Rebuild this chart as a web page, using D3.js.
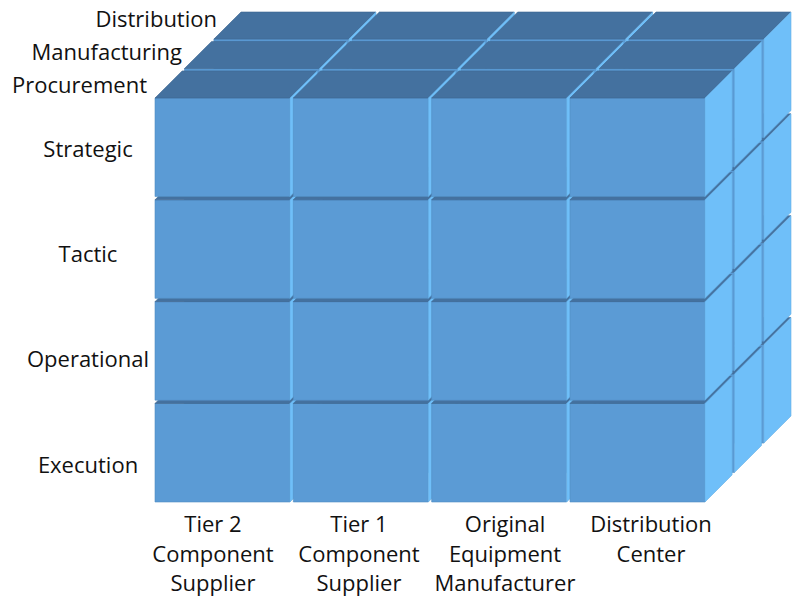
<!DOCTYPE html>
<html>
<head>
<meta charset="utf-8">
<script src="https://cdn.jsdelivr.net/npm/d3@7"></script>
<style>
  html, body { margin: 0; padding: 0; background: #ffffff; }
  svg { display: block; }
  text { font-family: "Open Sans", "Noto Sans", sans-serif; font-size: 22px; fill: #111111; }
</style>
</head>
<body>
<svg id="chart" width="793" height="602"></svg>
<script>
// Supply-chain cube: stages across, decision levels down, functions in depth
const stages = ["Tier 2 Component Supplier", "Tier 1 Component Supplier", "Original Equipment Manufacturer", "Distribution Center"];
const stageLabels = [["Tier 2", "Component", "Supplier"], ["Tier 1", "Component", "Supplier"], ["Original", "Equipment", "Manufacturer"], ["Distribution", "Center"]];
const levels = ["Strategic", "Tactic", "Operational", "Execution"];
const functions = ["Procurement", "Manufacturing", "Distribution"];

const svg = d3.select("#chart");

// Front face grid
const x = d3.scaleBand().domain(stages).range([155, 705]).paddingInner(0.024);
const y = d3.scaleBand().domain(levels).range([98, 502]).paddingInner(0.032);
// Depth (oblique, going up and to the right)
const z = d3.scaleBand().domain(functions).range([0, 86]).paddingInner(0.08);

const colors = { front: "#5b9bd5", top: "#44719f", right: "#6fbff9" };

// One cell per (stage, level, function)
const cells = [];
functions.forEach(f => levels.forEach(l => stages.forEach(s => cells.push({ s, l, f }))));

// Painter's order: back layer first, bottom row first, left column first
cells.sort((a, b) =>
  (functions.indexOf(b.f) - functions.indexOf(a.f)) ||
  (levels.indexOf(b.l) - levels.indexOf(a.l)) ||
  (stages.indexOf(a.s) - stages.indexOf(b.s)));

const w = x.bandwidth(), h = y.bandwidth(), dd = z.bandwidth();

function faces(c) {
  const off = z(c.f);
  const x0 = x(c.s) + off, y0 = y(c.l) - off;
  return [
    { k: "front", p: [[x0, y0], [x0 + w, y0], [x0 + w, y0 + h], [x0, y0 + h]] },
    { k: "top", p: [[x0, y0], [x0 + w, y0], [x0 + w + dd, y0 - dd], [x0 + dd, y0 - dd]] },
    { k: "right", p: [[x0 + w, y0], [x0 + w + dd, y0 - dd], [x0 + w + dd, y0 + h - dd], [x0 + w, y0 + h]] }
  ];
}

const line = d3.line();
const cube = svg.append("g").selectAll("g").data(cells).join("g");
cube.selectAll("path").data(d => faces(d)).join("path")
  .attr("d", d => line(d.p) + "Z")
  .attr("fill", d => colors[d.k])
  .attr("stroke", d => d3.color(colors[d.k]).darker(0.25))
  .attr("stroke-width", 0.6)
  .attr("stroke-linejoin", "round");

// Level labels on the left
const levelY = d3.scalePoint().domain(levels).range([149, 465]);
svg.append("g").selectAll("text").data(levels).join("text")
  .attr("x", 88).attr("y", d => levelY(d)).attr("dy", "0.35em")
  .attr("text-anchor", "middle").text(d => d);

// Function labels along the depth axis
const fx = d3.scalePoint().domain(functions).range([147, 217]);
const fy = d3.scalePoint().domain(functions).range([85, 19]);
svg.append("g").selectAll("text").data(functions).join("text")
  .attr("x", d => fx(d)).attr("y", d => fy(d)).attr("dy", "0.35em")
  .attr("text-anchor", "end").text(d => d);

// Stage labels below the grid
const sx = d3.scalePoint().domain(stages).range([213, 651]);
const st = svg.append("g").selectAll("text").data(stages).join("text")
  .attr("text-anchor", "middle");
st.selectAll("tspan").data((d, i) => stageLabels[i].map(t => ({ t, s: d }))).join("tspan")
  .attr("x", d => sx(d.s))
  .attr("y", (d, i) => 532 + i * 29.5)
  .text(d => d.t);
</script>
</body>
</html>
